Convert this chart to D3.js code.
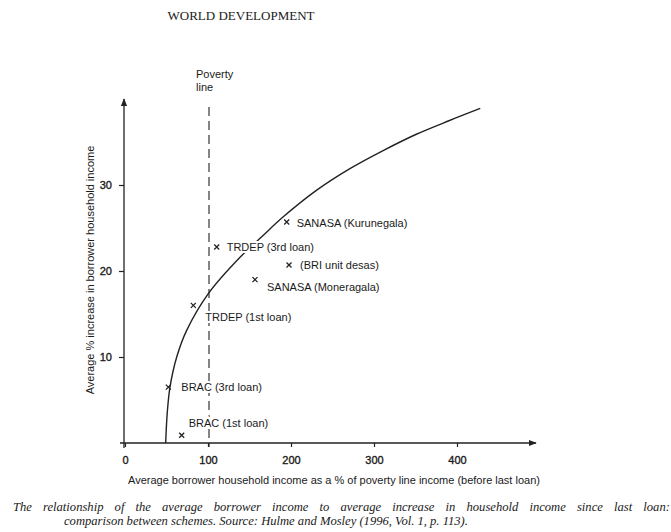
<!DOCTYPE html>
<html>
<head>
<meta charset="utf-8">
<script src="https://cdn.jsdelivr.net/npm/d3@7"></script>
<style>
  body { margin: 0; background: #fff; }
  svg text { fill: #1a1a1a; }
  .lbl { font-family: "Liberation Sans", Arial, sans-serif; font-size: 11px; }
  .tick text { font-family: "Liberation Sans", Arial, sans-serif; font-size: 11px; }
  .serif { font-family: "Liberation Serif", "Times New Roman", serif; }
</style>
</head>
<body>
<div id="chart"></div>
<script>
const frame_width = 671;
const frame_height = 532;

// schemes
const schemes = ["BRAC (1st loan)", "BRAC (3rd loan)", "TRDEP (1st loan)", "TRDEP (3rd loan)",
                 "SANASA (Kurunegala)", "(BRI unit desas)", "SANASA (Moneragala)"];
const incomeLevel = [68.3, 52.2, 82.3, 110.5, 194.8, 197.6, 156.6];
const incomeIncrease = [0.9, 6.5, 16.0, 22.8, 25.7, 20.7, 19.0];

// fitted curve as drawn in the figure
const curveX = [49, 50.9, 54.2, 62.3, 74.3, 100.6, 138.6, 166, 190.7, 231, 271, 311, 351, 391, 428];
const curveY = [0, 3.5, 6.5, 10, 13.1, 17.4, 21.6, 24.1, 26.3, 29.4, 31.9, 34.0, 35.9, 37.5, 38.9];

const xTicks = [0, 100, 200, 300, 400];
const yTicks = [10, 20, 30];
const povertyLine = 100;

// label offsets from each mark (layout only)
const labelOffsets = [[7, -8], [13, 4], [12, 16], [10, 4], [10, 5], [11, 4], [12, 11]];

const svg = d3.select("#chart")
    .append("svg")
        .attr("width", frame_width)
        .attr("height", frame_height);

const X_SCALE = d3.scaleLinear().domain([0, 400]).range([125, 457]);
const Y_SCALE = d3.scaleLinear().domain([0, 30]).range([443, 185]);

// arrow head
svg.append("defs").append("marker")
    .attr("id", "arrow")
    .attr("viewBox", "0 0 10 10")
    .attr("refX", 9).attr("refY", 5)
    .attr("markerWidth", 8).attr("markerHeight", 8)
    .attr("markerUnits", "userSpaceOnUse")
    .attr("orient", "auto")
    .append("path")
        .attr("d", "M0,1 L10,5 L0,9 Z")
        .attr("fill", "#222");

// header
svg.append("text")
    .attr("class", "serif")
    .attr("x", 241).attr("y", 20)
    .attr("text-anchor", "middle")
    .attr("font-size", "13px")
    .text("WORLD DEVELOPMENT");

// axis lines
svg.append("line")
    .attr("x1", X_SCALE(0) - 5).attr("x2", 536)
    .attr("y1", Y_SCALE(0)).attr("y2", Y_SCALE(0))
    .attr("stroke", "#222").attr("stroke-width", 1.3)
    .attr("marker-end", "url(#arrow)");

svg.append("line")
    .attr("x1", X_SCALE(0) - 1).attr("x2", X_SCALE(0) - 1)
    .attr("y1", Y_SCALE(0) + 5).attr("y2", 99)
    .attr("stroke", "#222").attr("stroke-width", 1.3)
    .attr("marker-end", "url(#arrow)");

// ticks
const xAxis = svg.append("g")
    .attr("transform", "translate(0," + Y_SCALE(0) + ")")
    .call(d3.axisBottom(X_SCALE).tickValues(xTicks).tickSize(4).tickSizeOuter(0).tickPadding(9));
xAxis.select(".domain").remove();

const yAxis = svg.append("g")
    .attr("transform", "translate(" + (X_SCALE(0) - 1) + ",0)")
    .call(d3.axisLeft(Y_SCALE).tickValues(yTicks).tickSize(5).tickSizeOuter(0).tickPadding(7));
yAxis.select(".domain").remove();

svg.selectAll(".tick line").attr("stroke", "#222").attr("stroke-width", 1.2);
svg.selectAll(".tick text")
    .attr("fill", "#1a1a1a")
    .attr("stroke", "#1a1a1a")
    .attr("stroke-width", 0.35);

// axis titles
svg.append("text")
    .attr("class", "lbl")
    .attr("x", 334).attr("y", 484)
    .attr("text-anchor", "middle")
    .attr("font-size", "10.2px")
    .text("Average borrower household income as a % of poverty line income (before last loan)");

svg.append("text")
    .attr("class", "lbl")
    .attr("transform", "translate(94,270) rotate(-90)")
    .attr("text-anchor", "middle")
    .attr("font-size", "10.2px")
    .text("Average % increase in borrower household income");

// poverty line
svg.append("line")
    .attr("x1", X_SCALE(povertyLine) + 1).attr("x2", X_SCALE(povertyLine) + 1)
    .attr("y1", 107).attr("y2", Y_SCALE(0) + 4)
    .attr("stroke", "#222").attr("stroke-width", 1.1)
    .attr("stroke-dasharray", "9,5");

svg.append("text").attr("class", "lbl")
    .attr("x", 196).attr("y", 78).attr("font-size", "10px")
    .text("Poverty");
svg.append("text").attr("class", "lbl")
    .attr("x", 196).attr("y", 91).attr("font-size", "10px")
    .text("line");

// curve
const curveData = curveX.map((x, i) => ({x: x, y: curveY[i]}));
svg.append("path")
    .datum(curveData)
    .attr("fill", "none")
    .attr("stroke", "#222")
    .attr("stroke-width", 1.4)
    .attr("d", d3.line()
        .x(d => X_SCALE(d.x))
        .y(d => Y_SCALE(d.y))
        .curve(d3.curveCatmullRom));

// scheme marks and labels
const points = schemes.map((s, i) => ({name: s, x: incomeLevel[i], y: incomeIncrease[i], off: labelOffsets[i]}));

const cross = d3.symbol().type(d3.symbolX || d3.symbolCross).size(d3.symbolX ? 18 : 22);

svg.selectAll(".mark")
    .data(points)
    .enter()
    .append("path")
        .attr("class", "mark")
        .attr("d", cross)
        .attr("transform", d => "translate(" + X_SCALE(d.x) + "," + Y_SCALE(d.y) + ")" + (d3.symbolX ? "" : " rotate(45)"))
        .attr("fill", d3.symbolX ? "none" : "#222")
        .attr("stroke", "#222")
        .attr("stroke-width", d3.symbolX ? 1.3 : 0);

svg.selectAll(".plabel")
    .data(points)
    .enter()
    .append("text")
        .attr("class", "lbl plabel")
        .attr("x", d => X_SCALE(d.x) + d.off[0])
        .attr("y", d => Y_SCALE(d.y) + d.off[1])
        .attr("stroke", "#fff")
        .attr("stroke-width", 4)
        .attr("paint-order", "stroke")
        .text(d => d.name);

// caption (first line is justified in the original)
svg.append("text")
    .attr("class", "serif")
    .attr("x", 13).attr("y", 511)
    .attr("font-size", "12.6px")
    .attr("font-style", "italic")
    .attr("word-spacing", "8px")
    .text("The relationship of the average borrower income to average increase in household income since last loan:");

svg.append("text")
    .attr("class", "serif")
    .attr("x", 64).attr("y", 525)
    .attr("font-size", "12.6px")
    .attr("font-style", "italic")
    .text("comparison between schemes. Source: Hulme and Mosley (1996, Vol. 1, p. 113).");
</script>
</body>
</html>
